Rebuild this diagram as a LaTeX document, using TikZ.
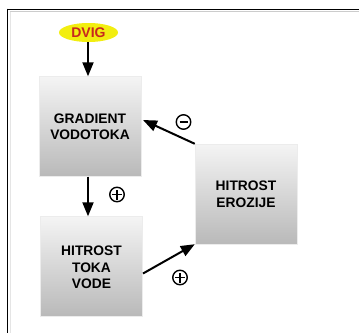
\documentclass[tikz,border=0pt]{standalone}
\usepackage{fontspec}
\setmainfont{Liberation Sans}
\usetikzlibrary{arrows.meta,shapes.geometric}
\definecolor{dvigred}{HTML}{C8281E}
\definecolor{dvigyellow}{HTML}{F2EE10}
\definecolor{boxtop}{HTML}{F4F4F4}
\definecolor{boxbot}{HTML}{B9B9B9}
\begin{document}
\begin{tikzpicture}[x=1pt,y=-1pt,
  blk/.style={rectangle,minimum width=102pt,minimum height=100pt,inner sep=0pt,
    top color=boxtop,bottom color=boxbot,draw=gray!15,line width=0.4pt,
    align=center,font=\fontsize{13.8}{16.5}\selectfont\bfseries},
  conn/.style={line width=2pt,-{Triangle[length=14pt,width=11pt]}},
  sgn/.style={circle,draw,line width=1.4pt,minimum size=14.5pt,inner sep=0pt},
  plussign/.style={sgn,path picture={
    \draw[line width=1.4pt] ([xshift=-5pt]path picture bounding box.center)--([xshift=5pt]path picture bounding box.center);
    \draw[line width=1.4pt] ([yshift=-5pt]path picture bounding box.center)--([yshift=5pt]path picture bounding box.center);}},
  minussign/.style={sgn,path picture={
    \draw[line width=1.4pt] ([xshift=-4pt]path picture bounding box.center)--([xshift=4pt]path picture bounding box.center);}}
]
\useasboundingbox (0,0) rectangle (359,333);
\fill[white] (0,0) rectangle (359,333);
% frame
\draw[gray!40,line width=1pt] (9.5,11.5) -- (359,11.5);
\draw[gray!20,line width=0.8pt] (10,11.5) -- (10,333);
\draw[black,line width=1.5pt] (7.5,9.3) -- (359,9.3);
\draw[black,line width=1.5pt] (7.5,8.55) -- (7.5,333);
% nodes
\node[ellipse,fill=dvigyellow,minimum width=59pt,minimum height=19pt,inner sep=0pt,
  text=dvigred,font=\fontsize{14}{16}\selectfont\bfseries] (dvig) at (88.5,32.5) {DVIG};
\node[blk] (grad) at (90,126.5) {GRADIENT\\VODOTOKA};
\node[blk] (toka) at (91.5,266.5) {\\[-5pt]HITROST\\TOKA\\VODE};
\node[blk] (eroz) at (246,194) {HITROST\\EROZIJE};
\coordinate (gradR) at (143,120);
\coordinate (tokaR) at (143,273.5);
% connectors
\draw[conn] (dvig.south -| 88,0) -- (grad.north -| 88,0);
\draw[conn] (grad.south -| 88,0) -- (toka.north -| 88,0);
\draw[conn] (eroz.north west) -- (gradR);
\draw[conn] (tokaR) -- (eroz.south west);
% signs
\node[minussign] (m1) at (183.5,122) {};
\node[plussign] (p1) at (117,194.5) {};
\node[plussign] (p2) at (180,277.5) {};
\end{tikzpicture}
\end{document}
